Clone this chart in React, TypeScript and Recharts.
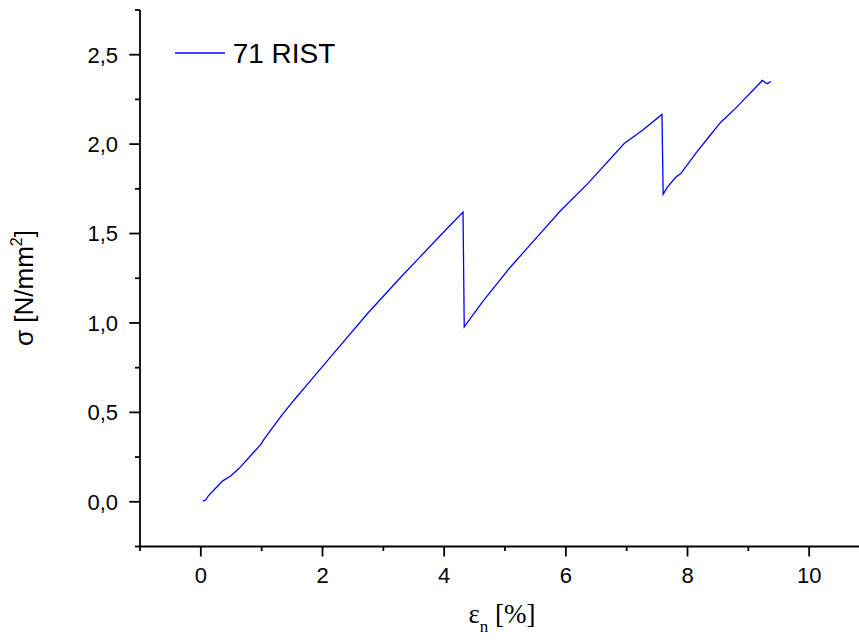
import React from 'react';
import { LineChart, Line, XAxis, YAxis, Legend, Label } from 'recharts';

// strain εn [%] and stress σ [N/mm²]
const strain = [
  0.03, 0.08, 0.12, 0.2, 0.36, 0.49, 0.63, 0.85, 0.99, 1.04, 1.31, 1.53, 1.81, 2.2, 2.74, 3.29, 3.6, 3.89, 4.1, 4.31,
  4.33, 4.63, 5.09, 5.5, 5.92, 6.36, 6.96, 7.26, 7.58,
  7.6, 7.67, 7.81, 7.89, 8.16, 8.35, 8.55, 8.79, 8.93, 9.1, 9.23, 9.31, 9.37,
];
const stress = [
  0.004, 0.01, 0.032, 0.06, 0.117, 0.144, 0.187, 0.27, 0.322, 0.35, 0.475, 0.568, 0.68, 0.837, 1.053, 1.257, 1.368, 1.472, 1.546, 1.62,
  0.978, 1.118, 1.313, 1.47, 1.63, 1.779, 2.003, 2.077, 2.166,
  1.72, 1.76, 1.816, 1.835, 1.96, 2.04, 2.124, 2.2, 2.25, 2.31, 2.356, 2.338, 2.35,
];

const xTicks = [-1, 0, 1, 2, 3, 4, 5, 6, 7, 8, 9, 10, 11];
const yTicks = [-0.25, 0, 0.25, 0.5, 0.75, 1, 1.25, 1.5, 1.75, 2, 2.25, 2.5, 2.75];
const seriesName = '71 RIST';

const data = strain.map((s, i) => ({ strain: s, stress: stress[i] }));

const FONT = '"Liberation Sans", Arial, sans-serif';
const SERIF = '"Liberation Serif", "Times New Roman", serif';

const XTick = (props: any) => {
  const { x, y, payload } = props;
  const v = payload.value;
  const major = v % 2 === 0;
  return (
    <g>
      <line x1={x} x2={x} y1={y} y2={y + (major ? 10 : 4.5)} stroke="#000" strokeWidth={1.8} />
      {major && (
        <text x={x} y={y + 36.6} textAnchor="middle" fontSize={22} fontFamily={FONT} fill="#000">
          {v}
        </text>
      )}
    </g>
  );
};

const YTick = (props: any) => {
  const { x, y, payload } = props;
  const v = payload.value;
  const major = Math.abs(v * 2 - Math.round(v * 2)) < 1e-6;
  return (
    <g>
      <line x1={x - (major ? 10.7 : 5)} x2={x} y1={y} y2={y} stroke="#000" strokeWidth={1.8} />
      {major && (
        <text x={x - 22} y={y + 7.8} textAnchor="end" fontSize={22} fontFamily={FONT} fill="#000">
          {v.toFixed(1).replace('.', ',')}
        </text>
      )}
    </g>
  );
};

const LegendBox = () => (
  <svg width={220} height={40} style={{ display: 'block' }}>
    <line x1={0} x2={50} y1={20} y2={20} stroke="#0000ff" strokeWidth={1.3} />
    <text x={57.7} y={29.7} fontSize={28} fontFamily={FONT} fill="#000">
      {seriesName}
    </text>
  </svg>
);

export default function App() {
  return (
    <div style={{ position: 'fixed', left: 0, top: 0, width: 859, height: 643, overflow: 'hidden', background: '#fff' }}>
      <LineChart width={880} height={643} data={data} margin={{ top: 10, right: 10, left: 0, bottom: 0 }}>
        <XAxis
          dataKey="strain"
          type="number"
          domain={[-1, 11]}
          ticks={xTicks}
          interval={0}
          height={96.5}
          tickSize={0}
          tickMargin={0}
          tickLine={false}
          tick={<XTick />}
          axisLine={{ stroke: '#000', strokeWidth: 1.8 }}
        >
          <Label
            content={() => (
              <text x={502} y={623} textAnchor="middle" fontSize={27} fontFamily={SERIF} fill="#000">
                ε
                <tspan fontSize={17} dy={9}>n</tspan>
                <tspan dy={-9} fontSize={27}> [%]</tspan>
              </text>
            )}
          />
        </XAxis>
        <YAxis
          type="number"
          domain={[-0.25, 2.75]}
          ticks={yTicks}
          interval={0}
          width={140}
          tickSize={0}
          tickMargin={0}
          tickLine={false}
          tick={<YTick />}
          axisLine={{ stroke: '#000', strokeWidth: 1.8 }}
        >
          <Label
            content={() => (
              <text
                x={33}
                y={288}
                transform="rotate(-90, 33, 288)"
                textAnchor="middle"
                fontSize={26}
                fontFamily={FONT}
                fill="#000"
              >
                σ [N/mm
                <tspan fontSize={16} dy={-11}>2</tspan>
                <tspan dy={11}>]</tspan>
              </text>
            )}
          />
        </YAxis>
        <Legend
          layout="horizontal"
          verticalAlign="middle"
          align="center"
          content={() => <LegendBox />}
          wrapperStyle={{ position: 'absolute', left: 175, top: 33.3, width: 220, height: 40 }}
        />
        <Line
          type="linear"
          dataKey="stress"
          name={seriesName}
          stroke="#0000ff"
          strokeWidth={1.3}
          dot={false}
          isAnimationActive={false}
        />
      </LineChart>
    </div>
  );
}
